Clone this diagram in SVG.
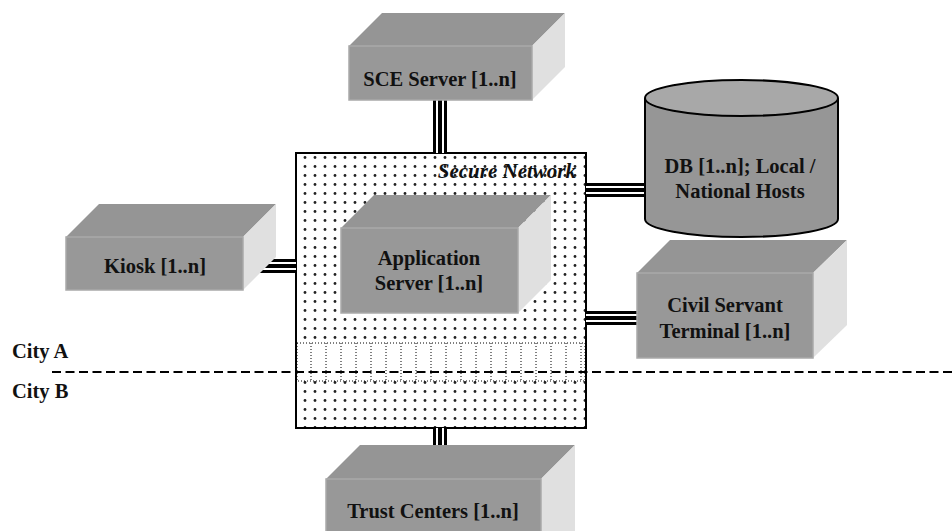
<svg xmlns="http://www.w3.org/2000/svg" width="952" height="531" viewBox="0 0 952 531">
<style>
.top{fill:#959595}
.side{fill:#e0e0e0}
.front{fill:#989898;stroke:#a9a9a9;stroke-width:1.5}
.lbl{font-family:"Liberation Serif","Times New Roman",serif;font-weight:bold;font-size:20.5px;fill:#111;text-anchor:middle}
.city{font-family:"Liberation Serif","Times New Roman",serif;font-weight:bold;font-size:20.5px;fill:#111}
.c1{fill:none;stroke:#000;stroke-width:14}
.c2{fill:none;stroke:#fff;stroke-width:8}
.c3{fill:none;stroke:#000;stroke-width:4}
.vd{stroke:#000;stroke-width:1;stroke-dasharray:1 2}
</style>
<defs>
<pattern id="dots" width="10" height="9" patternUnits="userSpaceOnUse">
<rect width="10" height="9" fill="#fff"/>
<circle cx="5" cy="4.5" r="1.4" fill="#222"/>
</pattern>
<path id="conn" d="M440 100V153M243 266H296M586 190H645M586 318H637M440 428V479"/>
</defs>
<rect width="952" height="531" fill="#fff"/>

<g id="secure-network">
<rect x="296" y="153" width="290" height="275" fill="url(#dots)" stroke="#000" stroke-width="2"/>
<rect x="297" y="343" width="288" height="38" fill="#fff" stroke="#000" stroke-width="1" stroke-dasharray="1 2"/>
<path class="vd" d="M311 343V381M326 343V381M341 343V381M356 343V381M371 343V381M386 343V381M401 343V381M416 343V381M431 343V381M446 343V381M461 343V381M476 343V381M491 343V381M506 343V381M521 343V381M536 343V381M551 343V381M566 343V381M581 343V381"/>
<text x="576" y="178" font-family="Liberation Serif,'Times New Roman',serif" font-style="italic" font-weight="bold" font-size="21" text-anchor="end" fill="#111">Secure Network</text>
</g>

<g id="city-divider">
<path d="M52 372H952" stroke="#000" stroke-width="2" stroke-dasharray="9 4.5"/>
<text class="city" x="12" y="358">City A</text>
<text class="city" x="12" y="398">City B</text>
</g>

<g id="connectors">
<use href="#conn" class="c1"/>
<use href="#conn" class="c2"/>
<use href="#conn" class="c3"/>
</g>

<g id="sce-server">
<polygon class="top" points="349,46 382,13 565,13 532,46"/>
<polygon class="side" points="532,46 565,13 565,67 532,100"/>
<rect class="front" x="349" y="46" width="183" height="54"/>
<text class="lbl" x="440" y="86">SCE Server [1..n]</text>
</g>

<g id="kiosk">
<polygon class="top" points="66,237 99,204 276,204 243,237"/>
<polygon class="side" points="243,237 276,204 276,257 243,290"/>
<rect class="front" x="66" y="237" width="177" height="53"/>
<text class="lbl" x="155" y="273">Kiosk [1..n]</text>
</g>

<g id="application-server">
<polygon class="top" points="341,228 374,195 551,195 518,228"/>
<polygon class="side" points="518,228 551,195 551,280 518,313"/>
<rect class="front" x="341" y="228" width="177" height="85"/>
<text class="lbl" x="429" y="265">Application</text>
<text class="lbl" x="429" y="290">Server [1..n]</text>
</g>

<g id="db">
<path d="M645 98V219A96.5 18 0 0 0 838 219V98" fill="#969696" stroke="#000" stroke-width="2"/>
<ellipse cx="741.5" cy="98" rx="96.5" ry="18" fill="#a8a8a8" stroke="#000" stroke-width="2"/>
<text class="lbl" x="740" y="173">DB [1..n]; Local /</text>
<text class="lbl" x="740" y="198">National Hosts</text>
</g>

<g id="civil-servant-terminal">
<polygon class="top" points="637,273 670,240 847,240 813,273"/>
<polygon class="side" points="813,273 847,240 847,325 813,358"/>
<rect class="front" x="637" y="273" width="176" height="85"/>
<text class="lbl" x="725" y="312">Civil Servant</text>
<text class="lbl" x="725" y="338">Terminal [1..n]</text>
</g>

<g id="trust-centers">
<polygon class="top" points="326,479 360,445 575,445 541,479"/>
<polygon class="side" points="541,479 575,445 575,531 541,531"/>
<rect class="front" x="326" y="479" width="215" height="60"/>
<text class="lbl" x="433" y="518">Trust Centers [1..n]</text>
</g>
</svg>
